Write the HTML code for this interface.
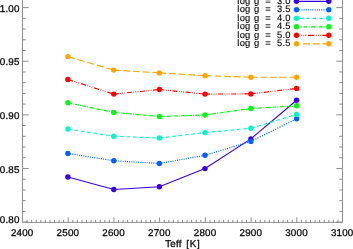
<!DOCTYPE html>
<html><head><meta charset="utf-8"><style>
html,body{margin:0;padding:0;background:#fff;overflow:hidden}
svg{display:block;will-change:transform}
text{font-family:"Liberation Sans",sans-serif;fill:#0a0a0a;text-rendering:geometricPrecision}
.ax{font-size:9.8px;letter-spacing:0.2px;stroke:#0a0a0a;stroke-width:0.3px}
.lg text{font-size:9.4px;letter-spacing:0.25px;stroke:#0a0a0a;stroke-width:0.15px}
</style></head><body>
<svg width="353" height="249" viewBox="0 0 353 249">
<rect width="353" height="249" fill="#fff"/>
<g stroke="#8e8e8e" stroke-width="1" fill="none">
<path d="M22.5 0V222.4H342.5V0"/>
<path d="M22.50 222.4v-5M27.07 222.4v-2.6M31.64 222.4v-2.6M36.21 222.4v-2.6M40.79 222.4v-2.6M45.36 222.4v-2.6M49.93 222.4v-2.6M54.50 222.4v-2.6M59.07 222.4v-2.6M63.64 222.4v-2.6M68.21 222.4v-5M72.79 222.4v-2.6M77.36 222.4v-2.6M81.93 222.4v-2.6M86.50 222.4v-2.6M91.07 222.4v-2.6M95.64 222.4v-2.6M100.21 222.4v-2.6M104.79 222.4v-2.6M109.36 222.4v-2.6M113.93 222.4v-5M118.50 222.4v-2.6M123.07 222.4v-2.6M127.64 222.4v-2.6M132.21 222.4v-2.6M136.79 222.4v-2.6M141.36 222.4v-2.6M145.93 222.4v-2.6M150.50 222.4v-2.6M155.07 222.4v-2.6M159.64 222.4v-5M164.21 222.4v-2.6M168.79 222.4v-2.6M173.36 222.4v-2.6M177.93 222.4v-2.6M182.50 222.4v-2.6M187.07 222.4v-2.6M191.64 222.4v-2.6M196.21 222.4v-2.6M200.79 222.4v-2.6M205.36 222.4v-5M209.93 222.4v-2.6M214.50 222.4v-2.6M219.07 222.4v-2.6M223.64 222.4v-2.6M228.21 222.4v-2.6M232.79 222.4v-2.6M237.36 222.4v-2.6M241.93 222.4v-2.6M246.50 222.4v-2.6M251.07 222.4v-5M255.64 222.4v-2.6M260.21 222.4v-2.6M264.79 222.4v-2.6M269.36 222.4v-2.6M273.93 222.4v-2.6M278.50 222.4v-2.6M283.07 222.4v-2.6M287.64 222.4v-2.6M292.21 222.4v-2.6M296.79 222.4v-5M301.36 222.4v-2.6M305.93 222.4v-2.6M310.50 222.4v-2.6M315.07 222.4v-2.6M319.64 222.4v-2.6M324.21 222.4v-2.6M328.79 222.4v-2.6M333.36 222.4v-2.6M337.93 222.4v-2.6M342.50 222.4v-5"/>
<path d="M22.5 222.10h6.2M342.5 222.10h-6.2M22.5 211.38h3.2M342.5 211.38h-3.2M22.5 200.65h3.2M342.5 200.65h-3.2M22.5 189.93h3.2M342.5 189.93h-3.2M22.5 179.20h3.2M342.5 179.20h-3.2M22.5 168.47h6.2M342.5 168.47h-6.2M22.5 157.75h3.2M342.5 157.75h-3.2M22.5 147.02h3.2M342.5 147.02h-3.2M22.5 136.30h3.2M342.5 136.30h-3.2M22.5 125.58h3.2M342.5 125.58h-3.2M22.5 114.85h6.2M342.5 114.85h-6.2M22.5 104.12h3.2M342.5 104.12h-3.2M22.5 93.40h3.2M342.5 93.40h-3.2M22.5 82.68h3.2M342.5 82.68h-3.2M22.5 71.95h3.2M342.5 71.95h-3.2M22.5 61.22h6.2M342.5 61.22h-6.2M22.5 50.50h3.2M342.5 50.50h-3.2M22.5 39.78h3.2M342.5 39.78h-3.2M22.5 29.05h3.2M342.5 29.05h-3.2M22.5 18.32h3.2M342.5 18.32h-3.2M22.5 7.60h6.2M342.5 7.60h-6.2"/>
</g>
<path d="M67.9 177L113.8 189.5L159.4 186.7L205 168.6L250.9 138.9L296.6 100.3" stroke="#3800e0" stroke-width="1.15" fill="none"/>
<circle cx="67.9" cy="177" r="2.7" fill="#3800e0"/>
<circle cx="113.8" cy="189.5" r="2.7" fill="#3800e0"/>
<circle cx="159.4" cy="186.7" r="2.7" fill="#3800e0"/>
<circle cx="205" cy="168.6" r="2.7" fill="#3800e0"/>
<circle cx="250.9" cy="138.9" r="2.7" fill="#3800e0"/>
<circle cx="296.6" cy="100.3" r="2.7" fill="#3800e0"/>
<path d="M67.9 153.5L113.8 160.7" stroke="#0060ff" stroke-width="1.15" fill="none" stroke-dasharray="1.012 1.215" stroke-dashoffset="0.000"/>
<path d="M113.8 160.7L159.4 163.5" stroke="#0060ff" stroke-width="1.15" fill="none" stroke-dasharray="1.002 1.202" stroke-dashoffset="0.000"/>
<path d="M159.4 163.5L205 155.3" stroke="#0060ff" stroke-width="1.15" fill="none" stroke-dasharray="1.016 1.219" stroke-dashoffset="0.000"/>
<path d="M205 155.3L250.9 141.4" stroke="#0060ff" stroke-width="1.15" fill="none" stroke-dasharray="1.045 1.254" stroke-dashoffset="0.000"/>
<path d="M250.9 141.4L296.6 118.8" stroke="#0060ff" stroke-width="1.15" fill="none" stroke-dasharray="1.116 1.339" stroke-dashoffset="0.000"/>
<circle cx="67.9" cy="153.5" r="2.7" fill="#0060ff"/>
<circle cx="113.8" cy="160.7" r="2.7" fill="#0060ff"/>
<circle cx="159.4" cy="163.5" r="2.7" fill="#0060ff"/>
<circle cx="205" cy="155.3" r="2.7" fill="#0060ff"/>
<circle cx="250.9" cy="141.4" r="2.7" fill="#0060ff"/>
<circle cx="296.6" cy="118.8" r="2.7" fill="#0060ff"/>
<path d="M67.9 129L113.8 136.2" stroke="#00f8c4" stroke-width="1.15" fill="none" stroke-dasharray="3.745 2.682" stroke-dashoffset="0.000"/>
<path d="M113.8 136.2L159.4 138" stroke="#00f8c4" stroke-width="1.15" fill="none" stroke-dasharray="3.703 2.652" stroke-dashoffset="0.000"/>
<path d="M159.4 138L205 132.6" stroke="#00f8c4" stroke-width="1.15" fill="none" stroke-dasharray="3.726 2.669" stroke-dashoffset="0.000"/>
<path d="M205 132.6L250.9 128.3" stroke="#00f8c4" stroke-width="1.15" fill="none" stroke-dasharray="3.716 2.662" stroke-dashoffset="0.000"/>
<path d="M250.9 128.3L296.6 114.4" stroke="#00f8c4" stroke-width="1.15" fill="none" stroke-dasharray="3.867 2.770" stroke-dashoffset="0.000"/>
<circle cx="67.9" cy="129" r="2.7" fill="#00f8c4"/>
<circle cx="113.8" cy="136.2" r="2.7" fill="#00f8c4"/>
<circle cx="159.4" cy="138" r="2.7" fill="#00f8c4"/>
<circle cx="205" cy="132.6" r="2.7" fill="#00f8c4"/>
<circle cx="250.9" cy="128.3" r="2.7" fill="#00f8c4"/>
<circle cx="296.6" cy="114.4" r="2.7" fill="#00f8c4"/>
<path d="M67.9 102.8L113.8 112.4" stroke="#00fa14" stroke-width="1.15" fill="none" stroke-dasharray="3.984 1.022 0.919 1.430" stroke-dashoffset="0.000"/>
<path d="M113.8 112.4L159.4 116.5" stroke="#00fa14" stroke-width="1.15" fill="none" stroke-dasharray="3.916 1.004 0.904 1.406" stroke-dashoffset="0.000"/>
<path d="M159.4 116.5L205 115" stroke="#00fa14" stroke-width="1.15" fill="none" stroke-dasharray="3.902 1.001 0.900 1.401" stroke-dashoffset="0.000"/>
<path d="M205 115L250.9 108.5" stroke="#00fa14" stroke-width="1.15" fill="none" stroke-dasharray="3.939 1.010 0.909 1.414" stroke-dashoffset="0.000"/>
<path d="M250.9 108.5L296.6 105.8" stroke="#00fa14" stroke-width="1.15" fill="none" stroke-dasharray="3.907 1.002 0.902 1.402" stroke-dashoffset="0.000"/>
<circle cx="67.9" cy="102.8" r="2.7" fill="#00fa14"/>
<circle cx="113.8" cy="112.4" r="2.7" fill="#00fa14"/>
<circle cx="159.4" cy="116.5" r="2.7" fill="#00fa14"/>
<circle cx="205" cy="115" r="2.7" fill="#00fa14"/>
<circle cx="250.9" cy="108.5" r="2.7" fill="#00fa14"/>
<circle cx="296.6" cy="105.8" r="2.7" fill="#00fa14"/>
<path d="M67.9 79.5L113.8 94.1" stroke="#ff0000" stroke-width="1.15" fill="none" stroke-dasharray="5.247 1.469 0.839 1.364 0.839 1.364 0.839 1.784" stroke-dashoffset="0.000"/>
<path d="M113.8 94.1L159.4 89.5" stroke="#ff0000" stroke-width="1.15" fill="none" stroke-dasharray="5.025 1.407 0.804 1.307 0.804 1.307 0.804 1.709" stroke-dashoffset="0.000"/>
<path d="M159.4 89.5L205 94.1" stroke="#ff0000" stroke-width="1.15" fill="none" stroke-dasharray="5.025 1.407 0.804 1.307 0.804 1.307 0.804 1.709" stroke-dashoffset="0.000"/>
<path d="M205 94.1L250.9 93.9" stroke="#ff0000" stroke-width="1.15" fill="none" stroke-dasharray="5.000 1.400 0.800 1.300 0.800 1.300 0.800 1.700" stroke-dashoffset="0.000"/>
<path d="M250.9 93.9L296.6 88.4" stroke="#ff0000" stroke-width="1.15" fill="none" stroke-dasharray="5.036 1.410 0.806 1.309 0.806 1.309 0.806 1.712" stroke-dashoffset="0.000"/>
<circle cx="67.9" cy="79.5" r="2.7" fill="#ff0000"/>
<circle cx="113.8" cy="94.1" r="2.7" fill="#ff0000"/>
<circle cx="159.4" cy="89.5" r="2.7" fill="#ff0000"/>
<circle cx="205" cy="94.1" r="2.7" fill="#ff0000"/>
<circle cx="250.9" cy="93.9" r="2.7" fill="#ff0000"/>
<circle cx="296.6" cy="88.4" r="2.7" fill="#ff0000"/>
<path d="M67.9 56.6L113.8 70.1" stroke="#ffa500" stroke-width="1.15" fill="none" stroke-dasharray="7.088 2.971" stroke-dashoffset="0.000"/>
<path d="M113.8 70.1L159.4 72.9" stroke="#ffa500" stroke-width="1.15" fill="none" stroke-dasharray="6.813 2.855" stroke-dashoffset="0.000"/>
<path d="M159.4 72.9L205 75.7" stroke="#ffa500" stroke-width="1.15" fill="none" stroke-dasharray="6.813 2.855" stroke-dashoffset="0.000"/>
<path d="M205 75.7L250.9 77.2" stroke="#ffa500" stroke-width="1.15" fill="none" stroke-dasharray="6.804 2.852" stroke-dashoffset="0.000"/>
<path d="M250.9 77.2L296.6 77.2" stroke="#ffa500" stroke-width="1.15" fill="none" stroke-dasharray="6.800 2.850" stroke-dashoffset="0.000"/>
<circle cx="67.9" cy="56.6" r="2.7" fill="#ffa500"/>
<circle cx="113.8" cy="70.1" r="2.7" fill="#ffa500"/>
<circle cx="159.4" cy="72.9" r="2.7" fill="#ffa500"/>
<circle cx="205" cy="75.7" r="2.7" fill="#ffa500"/>
<circle cx="250.9" cy="77.2" r="2.7" fill="#ffa500"/>
<circle cx="296.6" cy="77.2" r="2.7" fill="#ffa500"/>
<path d="M296.5 1.3H328.8" stroke="#3800e0" stroke-width="1.15" fill="none"/>
<circle cx="296.5" cy="1.3" r="2.7" fill="#3800e0"/><circle cx="328.8" cy="1.3" r="2.7" fill="#3800e0"/>
<g class="lg"><text x="237.3" y="3.8">log</text><text x="254" y="3.8">g</text><text x="265.3" y="3.8">=</text><text x="277" y="3.8">3.0</text></g>
<path d="M296.5 9.8H328.8" stroke="#0060ff" stroke-width="1.15" fill="none" stroke-dasharray="1 1.2" stroke-dashoffset="1.65"/>
<circle cx="296.5" cy="9.8" r="2.7" fill="#0060ff"/><circle cx="328.8" cy="9.8" r="2.7" fill="#0060ff"/>
<g class="lg"><text x="237.3" y="12.3">log</text><text x="254" y="12.3">g</text><text x="265.3" y="12.3">=</text><text x="277" y="12.3">3.5</text></g>
<path d="M296.5 18.3H328.8" stroke="#00f8c4" stroke-width="1.15" fill="none" stroke-dasharray="3.4 3.2" stroke-dashoffset="3.6"/>
<circle cx="296.5" cy="18.3" r="2.7" fill="#00f8c4"/><circle cx="328.8" cy="18.3" r="2.7" fill="#00f8c4"/>
<g class="lg"><text x="237.3" y="20.8">log</text><text x="254" y="20.8">g</text><text x="265.3" y="20.8">=</text><text x="277" y="20.8">4.0</text></g>
<path d="M296.5 26.8H328.8" stroke="#00fa14" stroke-width="1.15" fill="none" stroke-dasharray="3.9 1.5 0.9 1.5" stroke-dashoffset="1.0"/>
<circle cx="296.5" cy="26.8" r="2.7" fill="#00fa14"/><circle cx="328.8" cy="26.8" r="2.7" fill="#00fa14"/>
<g class="lg"><text x="237.3" y="29.3">log</text><text x="254" y="29.3">g</text><text x="265.3" y="29.3">=</text><text x="277" y="29.3">4.5</text></g>
<path d="M296.5 35.3H328.8" stroke="#ff0000" stroke-width="1.15" fill="none" stroke-dasharray="6.1 1.9 0.8 1.2 0.8 1.2 0.8 1.7" stroke-dashoffset="3.1"/>
<circle cx="296.5" cy="35.3" r="2.7" fill="#ff0000"/><circle cx="328.8" cy="35.3" r="2.7" fill="#ff0000"/>
<g class="lg"><text x="237.3" y="37.8">log</text><text x="254" y="37.8">g</text><text x="265.3" y="37.8">=</text><text x="277" y="37.8">5.0</text></g>
<path d="M303.0 43.8H328.8" stroke="#ffa500" stroke-width="1.15" fill="none" stroke-dasharray="7 2.7" stroke-dashoffset="0"/>
<circle cx="296.5" cy="43.8" r="2.7" fill="#ffa500"/><circle cx="328.8" cy="43.8" r="2.7" fill="#ffa500"/>
<g class="lg"><text x="237.3" y="46.3">log</text><text x="254" y="46.3">g</text><text x="265.3" y="46.3">=</text><text x="277" y="46.3">5.5</text></g>
<text class="ax" text-anchor="end" x="19.6" y="11.8">1.00</text>
<text class="ax" text-anchor="end" x="19.6" y="65.4">0.95</text>
<text class="ax" text-anchor="end" x="19.6" y="119.1">0.90</text>
<text class="ax" text-anchor="end" x="19.6" y="172.7">0.85</text>
<text class="ax" text-anchor="end" x="19.6" y="222.7">0.80</text>
<text class="ax" text-anchor="middle" x="22.2" y="235.6">2400</text>
<text class="ax" text-anchor="middle" x="67.9" y="235.6">2500</text>
<text class="ax" text-anchor="middle" x="113.6" y="235.6">2600</text>
<text class="ax" text-anchor="middle" x="159.3" y="235.6">2700</text>
<text class="ax" text-anchor="middle" x="205.1" y="235.6">2800</text>
<text class="ax" text-anchor="middle" x="250.8" y="235.6">2900</text>
<text class="ax" text-anchor="middle" x="296.5" y="235.6">3000</text>
<text class="ax" text-anchor="middle" x="342.2" y="235.6">3100</text>
<text class="ax" x="165.2" y="246.6">Teff</text><text class="ax" x="186.3" y="246.6" style="letter-spacing:0.7px">[K]</text>
</svg>
</body></html>
